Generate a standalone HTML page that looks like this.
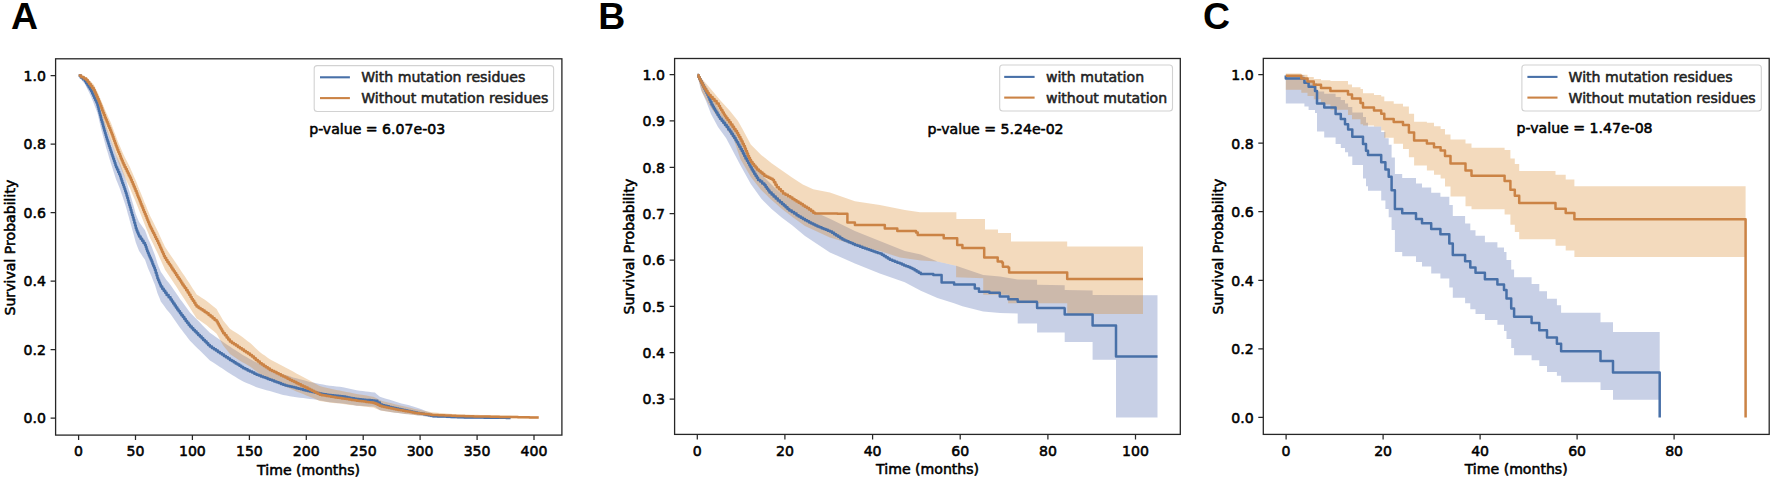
<!DOCTYPE html>
<html lang="en">
<head>
<meta charset="utf-8">
<title>Kaplan-Meier survival curves</title>
<style>
html,body{margin:0;padding:0;background:#fff;}
body{width:1772px;height:481px;overflow:hidden;}
svg{display:block;font-family:"DejaVu Sans","Liberation Sans",sans-serif;}
svg text{stroke:currentColor;stroke-width:0.55px;stroke-linejoin:round;}
svg text.pl{stroke:none;}
</style>
</head>
<body>
<svg width="1772" height="481" viewBox="0 0 1772 481">
<rect x="0" y="0" width="1772" height="481" fill="#fff"/>
<path d="M78.7 74.8 L81.8 76.5 L85 78.2 L87.1 80.6 L89.1 83.1 L91.2 85.5 L92.4 87.8 L93.7 90.1 L94.9 92.3 L96.2 94.6 L97.4 96.9 L98.2 99.6 L98.9 102.3 L99.7 105 L100.4 107.8 L101.2 110.6 L102 113.3 L102.9 116 L103.7 118.7 L104.5 121.4 L105.4 124.1 L106.2 126.8 L107.2 129.5 L108.2 132.3 L109.1 135 L110.1 137.8 L111.1 140.7 L112.1 143.5 L113.1 146.4 L114.1 149.3 L115.1 152.2 L116.1 155 L117.5 158 L118.8 160.9 L120.2 163.8 L121.3 167 L122.5 170.2 L123.6 173.4 L124.8 176.6 L125.9 179.8 L126.9 183 L127.8 186.2 L128.8 189.4 L129.7 192.6 L130.7 195.9 L131.7 199.2 L132.6 202.5 L133.6 205.8 L134.7 209.9 L135.8 214 L137.4 218.1 L139.1 222.1 L141.1 224.8 L143 227.5 L145 230.2 L146.5 234.3 L148 238.4 L149.2 241.1 L150.4 243.8 L151.6 246.6 L153.2 250.8 L154.9 255 L156.2 259.2 L157.4 263.3 L158.5 266.2 L159.7 269 L160.8 271.8 L162.7 274.6 L164.7 277.4 L166.6 280.2 L168.6 282.6 L170.5 284.9 L172.4 287.7 L174.3 290.5 L176.2 293.3 L178.1 296.1 L180 298.9 L182 301.6 L184 304.3 L186 307 L188 309.7 L190 312.4 L192.5 314.9 L194.9 317.5 L197.4 320 L199.9 322.6 L202.4 325.2 L204.9 327.7 L207.4 330.3 L209.9 332.8 L213.2 335.1 L216.6 337.4 L219.9 339.7 L222.4 341.4 L224.9 343.2 L227.4 344.9 L229.9 346.6 L232.6 348.4 L235.2 350.1 L237.9 351.8 L240.5 353.6 L243.2 355.3 L246.5 357.1 L249.8 358.9 L253.2 360.7 L256.5 362.6 L259.8 364 L263.1 365.4 L266.5 366.8 L269.8 368.3 L273.1 369.8 L276.5 371.2 L279.8 372.7 L283.1 374.2 L286.4 375.2 L289.8 376.3 L293.1 377.4 L296.4 378.3 L299.8 379.2 L303.1 380.1 L306.4 381 L309.8 381.9 L313.1 382.6 L316.4 383.3 L319.8 384 L323.1 384.6 L326.4 385.3 L329.7 385.7 L333 386 L336.4 386.4 L339.7 386.7 L343 387.2 L346.4 388 L349.8 388.7 L353.2 389.5 L356.6 390.3 L359.7 390.7 L362.7 391.1 L365.8 391.4 L368.8 391.8 L371.8 392.2 L374.9 392.6 L377.4 394.7 L379.9 396.8 L382.9 397.7 L386 398.7 L389 399.6 L392.1 400.6 L395.1 401.5 L398.2 402.5 L401.5 403.4 L404.8 404.3 L408.2 405.1 L411.5 406 L414.8 406.9 L417.9 408 L420.9 409.1 L424 410.3 L427 411.4 L430.1 412.6 L433.1 413.7 L436.1 413.9 L439.2 414.2 L442.2 414.4 L445.2 414.7 L448.2 414.9 L451.3 415.1 L454.3 415.3 L457.3 415.4 L460.3 415.6 L463.4 415.7 L466.4 415.9 L469.5 415.9 L472.7 416 L475.8 416 L479 416.1 L482.1 416.2 L485.3 416.2 L488.4 416.3 L491.6 416.3 L494.8 416.4 L497.9 416.5 L501.1 416.5 L504.2 416.6 L507.4 416.6 L510.5 416.7 L510.5 418.9 L507.4 418.9 L504.2 418.9 L501.1 418.9 L497.9 418.9 L494.8 418.9 L491.6 418.8 L488.4 418.8 L485.3 418.8 L482.1 418.8 L479 418.8 L475.8 418.8 L472.7 418.8 L469.5 418.8 L466.4 418.8 L463.4 418.7 L460.3 418.6 L457.3 418.5 L454.3 418.4 L451.3 418.3 L448.2 418.2 L445.2 418.1 L442.2 418 L439.2 417.9 L436.1 417.8 L433.1 417.7 L430.1 417.2 L427 416.8 L424 416.3 L420.9 415.8 L417.9 415.4 L414.8 414.9 L411.5 414.6 L408.2 414.2 L404.8 413.9 L401.5 413.5 L398.2 413.1 L395.1 412.7 L392.1 412.2 L389 411.7 L386 411.3 L382.9 410.8 L379.9 410.3 L377.4 408.6 L374.9 406.8 L371.8 406.6 L368.8 406.4 L365.8 406.2 L362.7 406 L359.7 405.8 L356.6 405.7 L353.2 405.1 L349.8 404.6 L346.4 404.1 L343 403.5 L339.7 403.2 L336.4 402.9 L333 402.5 L329.7 402.2 L326.4 401.8 L323.1 401.1 L319.8 400.5 L316.4 399.8 L313.1 399.3 L309.8 399 L306.4 398.5 L303.1 398.1 L299.8 397.7 L296.4 397.2 L293.1 396.7 L289.8 396.2 L286.4 395.6 L283.1 395 L279.8 394.1 L276.5 393.1 L273.1 392.1 L269.8 391.1 L266.5 390.2 L263.1 389.2 L259.8 388.2 L256.5 387.2 L253.2 385.8 L249.8 384.3 L246.5 382.9 L243.2 381.5 L240.5 380 L237.9 378.4 L235.2 376.8 L232.6 375.2 L229.9 373.5 L227.4 371.9 L224.9 370.2 L222.4 368.6 L219.9 367 L216.6 364.8 L213.2 362.6 L209.9 360.5 L207.4 358 L204.9 355.5 L202.4 353.1 L199.9 350.6 L197.4 348.2 L194.9 345.7 L192.5 343.3 L190 340.8 L188 338.2 L186 335.6 L184 332.9 L182 330.3 L180 327.7 L178.1 325 L176.2 322.3 L174.3 319.5 L172.4 316.8 L170.5 314.1 L168.6 311.8 L166.6 309.6 L164.7 306.8 L162.7 304.1 L160.8 301.4 L159.7 298.6 L158.5 295.8 L157.4 293.1 L156.2 288.9 L154.9 284.8 L153.2 280.7 L151.6 276.6 L150.4 273.8 L149.2 271 L148 268.2 L146.5 264 L145 259.8 L143 256.9 L141.1 254 L139.1 251.1 L137.4 246.8 L135.8 242.6 L134.7 238.4 L133.6 234.2 L132.6 230.8 L131.7 227.4 L130.7 223.9 L129.7 220.5 L128.8 217.1 L127.8 213.7 L126.9 210.2 L125.9 206.8 L124.8 203.3 L123.6 199.8 L122.5 196.3 L121.3 192.9 L120.2 189.4 L118.8 186.1 L117.5 182.8 L116.1 179.6 L115.1 176.4 L114.1 173.3 L113.1 170.2 L112.1 167.1 L111.1 163.9 L110.1 160.8 L109.1 157.6 L108.2 154.3 L107.2 151.1 L106.2 147.9 L105.4 144.7 L104.5 141.6 L103.7 138.5 L102.9 135.4 L102 132.3 L101.2 129.2 L100.4 126 L99.7 122.8 L98.9 119.5 L98.2 116.2 L97.4 112.9 L96.2 109.7 L94.9 106.5 L93.7 103.3 L92.4 100.1 L91.2 96.9 L89.1 92.6 L87.1 88.4 L85 84.2 L81.8 80.2 L78.7 76.2Z" fill="#4862ac" fill-opacity="0.3" stroke="none"/>
<path d="M78.7 74.8 L82.5 76 L86.2 77.1 L88.1 78.9 L90 80.7 L91.8 82.5 L93.7 84.5 L95 87 L96.2 89.5 L97.5 92 L98.7 94.5 L99.9 97.5 L101.2 100.4 L102.4 103.4 L103.7 106.4 L104.9 109.4 L106.1 112.2 L107.4 114.9 L108.6 117.7 L109.9 120.4 L111.1 123.3 L112.1 126.1 L113.2 129 L114.2 131.8 L115.3 134.6 L116.4 137.4 L117.4 140.2 L118.6 143.2 L119.9 146.1 L121.1 149 L122.4 151.9 L123.6 154.8 L125.2 157.9 L126.8 160.9 L128.3 164 L129.9 167.1 L131.2 170.2 L132.6 173.3 L133.9 176.4 L135.3 179.5 L136.6 182.6 L137.9 185.9 L139.2 189.2 L140.6 192.5 L141.9 195.8 L143.2 199.1 L144.5 202.4 L145.9 205.6 L147.2 208.9 L148.6 212.2 L149.9 215.5 L151.3 218.3 L152.7 221 L154.1 223.8 L155.4 226.5 L156.8 229.3 L158.2 232 L159.5 235 L160.9 237.9 L162.2 240.9 L163.6 243.8 L164.9 246.8 L166.6 249.3 L168.2 251.7 L169.9 254.2 L171.6 256.7 L173.2 259.1 L174.9 261.6 L176.9 264.5 L178.9 267.5 L180.8 270.4 L182.8 273.4 L184.8 276.3 L186.7 279.2 L188.6 282.1 L190.5 285.1 L192.5 288.2 L194.6 291.3 L196.6 294.5 L199.1 296.1 L201.6 297.7 L204.1 299.3 L206.6 300.9 L209.1 302.9 L211.6 304.9 L214.1 307 L216.6 309 L218.2 311.9 L219.9 314.7 L221.5 317.6 L223.2 320.5 L225.4 323.2 L227.7 326 L229.9 328.8 L233.2 330.9 L236.6 333.1 L239.9 335.2 L242.4 337.1 L244.9 339 L247.4 340.9 L249.9 342.8 L252.4 345.1 L254.9 347.4 L257.3 349.7 L259.8 352 L262.3 353.9 L264.8 355.6 L267.3 357.4 L269.8 359.2 L273.1 360.9 L276.5 362.7 L279.8 364.4 L283.1 366.2 L286.4 368 L289.8 369.7 L293.1 371.5 L296.4 373.4 L299.8 375.2 L303.1 377 L306.4 378.8 L309.8 380.6 L313.1 382.4 L316.4 384.3 L319.7 386.1 L323 386.9 L326.4 387.7 L329.7 388.4 L333 389.2 L336.4 389.9 L339.7 390.6 L343 391.2 L346.4 391.9 L349.8 392.5 L353.2 393.2 L356.6 393.9 L359.9 394.4 L363.3 395 L366.6 395.6 L370 396.2 L373.3 396.8 L376.1 398.1 L378.8 399.5 L381.6 400.8 L384.9 401.7 L388.2 402.5 L391.6 403.3 L394.9 404.2 L398.2 405 L401.5 405.8 L404.8 406.6 L408.2 407.3 L411.5 408.1 L414.8 408.9 L418.1 409.6 L421.5 410.2 L424.8 410.9 L428.2 411.6 L431.5 412.3 L434.5 412.6 L437.5 412.8 L440.6 413.1 L443.6 413.3 L446.6 413.6 L449.6 413.8 L452.6 413.9 L455.6 414.1 L458.7 414.2 L461.7 414.4 L464.7 414.5 L467.9 414.6 L471.1 414.7 L474.3 414.7 L477.5 414.8 L480.7 414.9 L483.9 415 L487.1 415.1 L490.3 415.2 L493.5 415.2 L496.7 415.3 L499.9 415.4 L503.1 415.5 L506.3 415.6 L509.5 415.6 L512.8 415.7 L516 415.8 L519.3 415.9 L522.5 415.9 L525.7 416 L529 416.1 L532.2 416.1 L535.5 416.2 L538.7 416.3 L538.7 418.5 L535.5 418.5 L532.2 418.4 L529 418.4 L525.7 418.4 L522.5 418.3 L519.3 418.3 L516 418.3 L512.8 418.2 L509.5 418.2 L506.3 418.2 L503.1 418.1 L499.9 418.1 L496.7 418 L493.5 418 L490.3 417.9 L487.1 417.9 L483.9 417.8 L480.7 417.8 L477.5 417.7 L474.3 417.7 L471.1 417.6 L467.9 417.6 L464.7 417.6 L461.7 417.4 L458.7 417.3 L455.6 417.2 L452.6 417.1 L449.6 417 L446.6 416.9 L443.6 416.8 L440.6 416.7 L437.5 416.6 L434.5 416.5 L431.5 416.5 L428.2 416.2 L424.8 415.9 L421.5 415.6 L418.1 415.4 L414.8 415.1 L411.5 414.7 L408.2 414.3 L404.8 413.9 L401.5 413.5 L398.2 413.1 L394.9 412.7 L391.6 412.2 L388.2 411.7 L384.9 411.3 L381.6 410.8 L378.8 409.8 L376.1 408.7 L373.3 407.5 L370 407.2 L366.6 406.8 L363.3 406.5 L359.9 406.1 L356.6 405.8 L353.2 405.3 L349.8 404.9 L346.4 404.4 L343 404 L339.7 403.6 L336.4 403.2 L333 402.9 L329.7 402.4 L326.4 402 L323 401.5 L319.7 401.1 L316.4 399.5 L313.1 398.1 L309.8 396.7 L306.4 395.4 L303.1 394 L299.8 392.7 L296.4 391.4 L293.1 390 L289.8 388.6 L286.4 387.1 L283.1 385.6 L279.8 384.2 L276.5 382.8 L273.1 381.3 L269.8 379.9 L267.3 378.4 L264.8 376.9 L262.3 375.4 L259.8 373.9 L257.3 372.1 L254.9 370.2 L252.4 368.3 L249.9 366.5 L247.4 365.1 L244.9 363.6 L242.4 362.2 L239.9 360.7 L236.6 358.4 L233.2 356.2 L229.9 353.9 L227.7 351.1 L225.4 348.3 L223.2 345.4 L221.5 342.5 L219.9 339.6 L218.2 336.6 L216.6 333.7 L214.1 331.6 L211.6 329.5 L209.1 327.4 L206.6 325.3 L204.1 323.5 L201.6 321.8 L199.1 320.1 L196.6 318.4 L194.6 315.2 L192.5 312 L190.5 308.7 L188.6 305.7 L186.7 302.7 L184.8 299.7 L182.8 296.7 L180.8 293.7 L178.9 290.7 L176.9 287.6 L174.9 284.6 L173.2 282.1 L171.6 279.5 L169.9 277 L168.2 274.5 L166.6 271.9 L164.9 269.4 L163.6 266.4 L162.2 263.4 L160.9 260.4 L159.5 257.4 L158.2 254.4 L156.8 251.6 L155.4 248.7 L154.1 245.9 L152.7 243.1 L151.3 240.3 L149.9 237.5 L148.6 234.1 L147.2 230.8 L145.9 227.4 L144.5 224.1 L143.2 220.7 L141.9 217.4 L140.6 214 L139.2 210.7 L137.9 207.3 L136.6 204 L135.3 200.8 L133.9 197.6 L132.6 194.4 L131.2 191.3 L129.9 188.1 L128.3 184.8 L126.8 181.5 L125.2 178.1 L123.6 174.8 L122.4 171.7 L121.1 168.6 L119.9 165.5 L118.6 162.4 L117.4 159.4 L116.4 156.4 L115.3 153.4 L114.2 150.4 L113.2 147.4 L112.1 144.5 L111.1 141.5 L109.9 138.4 L108.6 135.1 L107.4 131.9 L106.1 128.6 L104.9 125.4 L103.7 121.9 L102.4 118.4 L101.2 114.9 L99.9 111.4 L98.7 107.9 L97.5 104.7 L96.2 101.6 L95 98.5 L93.7 95.3 L91.8 92.4 L90 89.2 L88.1 86.1 L86.2 82.9 L82.5 79.5 L78.7 76.2Z" fill="#d78426" fill-opacity="0.3" stroke="none"/>
<path d="M78.7 75.5 H80.8 V77.4 H82.9 V79.3 H85 V81.2 H86.2 V83.2 H87.5 V85.2 H88.7 V87.2 H90 V89.2 H91.2 V91.2 H92.2 V93.5 H93.3 V95.8 H94.3 V98.1 H95.3 V100.3 H96.4 V102.6 H97.4 V104.9 H97.9 V107 H98.5 V109.2 H99 V111.3 H99.6 V113.5 H100.1 V115.6 H100.7 V117.8 H101.2 V119.9 H101.8 V122.1 H102.5 V124.2 H103.1 V126.4 H103.7 V128.6 H104.3 V130.8 H105 V133 H105.6 V135.1 H106.2 V137.3 H106.9 V139.4 H107.6 V141.6 H108.3 V143.7 H109 V145.9 H109.7 V148 H110.4 V150.2 H111.1 V152.3 H111.8 V154.4 H112.5 V156.6 H113.2 V158.7 H114 V160.9 H114.7 V163 H115.4 V165.2 H116.1 V167.3 H117.1 V169.6 H118.2 V171.9 H119.2 V174.3 H120.2 V176.6 H120.9 V178.7 H121.6 V180.8 H122.3 V182.9 H123.1 V184.9 H123.8 V187 H124.5 V189.1 H125.2 V191.2 H125.9 V193.3 H126.6 V195.7 H127.3 V198 H128 V200.4 H128.6 V202.8 H129.3 V205.2 H130 V207.5 H130.7 V209.9 H131.4 V212.4 H132.1 V214.9 H132.9 V217.5 H133.6 V220 H134.3 V222.8 H135.1 V225.5 H135.8 V228.3 H136.6 V230.4 H137.4 V232.4 H138.3 V234.5 H139.1 V236.6 H140.6 V238.7 H142.1 V240.8 H143.5 V242.9 H145 V245 H145.8 V247.1 H146.5 V249.2 H147.2 V251.2 H148 V253.3 H148.9 V255.4 H149.8 V257.5 H150.7 V259.5 H151.6 V261.6 H152.4 V263.7 H153.2 V265.8 H154.1 V267.8 H154.9 V269.9 H155.7 V272.7 H156.6 V275.4 H157.4 V278.2 H158.2 V280.3 H159.1 V282.4 H160 V284.5 H160.8 V286.6 H162.2 V288.7 H163.7 V290.8 H165.2 V292.8 H166.6 V294.9 H168.6 V297.2 H170.5 V299.5 H171.9 V301.5 H173.2 V303.4 H174.6 V305.4 H175.9 V307.4 H177.3 V309.4 H178.6 V311.3 H180 V313.3 H181.4 V315.2 H182.9 V317.1 H184.3 V319 H185.7 V320.9 H187.1 V322.8 H188.6 V324.7 H190 V326.6 H191.7 V328.3 H193.3 V329.9 H194.9 V331.6 H196.6 V333.3 H198.2 V334.9 H199.9 V336.6 H201.6 V338.3 H203.2 V339.9 H204.9 V341.6 H206.6 V343.3 H208.2 V344.9 H209.9 V346.6 H211.9 V347.9 H213.9 V349.2 H215.9 V350.6 H217.9 V351.9 H219.9 V353.2 H221.9 V354.5 H223.9 V355.9 H225.9 V357.2 H227.9 V358.6 H229.9 V359.9 H231.8 V361.1 H233.7 V362.3 H235.6 V363.5 H237.5 V364.6 H239.4 V365.8 H241.3 V367 H243.2 V368.2 H245.4 V369.3 H247.6 V370.4 H249.8 V371.5 H252.1 V372.6 H254.3 V373.7 H256.5 V374.8 H258.7 V375.6 H260.9 V376.5 H263.1 V377.3 H265.4 V378.1 H267.6 V379 H269.8 V379.8 H272 V380.6 H274.2 V381.5 H276.5 V382.3 H278.7 V383.1 H280.9 V384 H283.1 V384.8 H285.3 V385.4 H287.5 V385.9 H289.8 V386.5 H292 V387.1 H294.2 V387.6 H296.4 V388.2 H298.6 V388.8 H300.9 V389.3 H303.1 V389.9 H305.3 V390.4 H307.6 V390.9 H309.8 V391.5 H312.2 V392 H314.5 V392.4 H316.9 V392.9 H319.3 V393.4 H321.7 V393.9 H324 V394.3 H326.4 V394.8 H328.8 V395.1 H331.1 V395.3 H333.5 V395.6 H335.9 V395.8 H338.3 V396.1 H340.6 V396.3 H343 V396.6 H345.3 V397 H347.5 V397.4 H349.8 V397.9 H352.1 V398.3 H354.3 V398.7 H356.6 V399.1 H358.9 V399.3 H361.2 V399.5 H363.5 V399.7 H365.8 V399.9 H368 V400.1 H370.3 V400.3 H372.6 V400.5 H374.9 V400.7 H377.4 V402.6 H379.9 V404.6 H382.2 V405.2 H384.5 V405.7 H386.8 V406.3 H389 V406.9 H391.3 V407.4 H393.6 V408 H395.9 V408.5 H398.2 V409.1 H400.6 V409.6 H402.9 V410 H405.3 V410.5 H407.7 V411 H410.1 V411.5 H412.4 V411.9 H414.8 V412.4 H417.1 V412.9 H419.4 V413.3 H421.7 V413.8 H424 V414.3 H426.2 V414.8 H428.5 V415.2 H430.8 V415.7 H433.1 V416.2 H435.3 V416.3 H437.5 V416.4 H439.8 V416.5 H442 V416.5 H444.2 V416.6 H446.4 V416.7 H448.6 V416.8 H450.9 V416.9 H453.1 V417 H455.3 V417.1 H457.5 V417.2 H459.7 V417.2 H462 V417.3 H464.2 V417.4 H466.4 V417.5 H468.6 V417.5 H470.8 V417.5 H473 V417.6 H475.2 V417.6 H477.4 V417.6 H479.6 V417.6 H481.8 V417.6 H484 V417.7 H486.2 V417.7 H488.4 V417.7 H490.7 V417.7 H492.9 V417.7 H495.1 V417.8 H497.3 V417.8 H499.5 V417.8 H501.7 V417.8 H503.9 V417.8 H506.1 V417.9 H508.3 V417.9 H510.5 V417.9" fill="none" stroke="#4870a8" stroke-width="2.5" stroke-linejoin="round" stroke-linecap="butt"/>
<path d="M78.7 75.5 H81.2 V77 H83.7 V78.5 H86.2 V80 H87.7 V82 H89.2 V84 H90.7 V85.9 H92.2 V87.9 H93.7 V89.9 H94.7 V92.2 H95.7 V94.4 H96.7 V96.7 H97.7 V98.9 H98.7 V101.2 H99.6 V103.5 H100.5 V105.8 H101.4 V108.1 H102.2 V110.5 H103.1 V112.8 H104 V115.1 H104.9 V117.4 H105.8 V119.5 H106.7 V121.7 H107.6 V123.8 H108.4 V126 H109.3 V128.1 H110.2 V130.3 H111.1 V132.4 H111.9 V134.6 H112.7 V136.8 H113.5 V138.9 H114.2 V141.1 H115 V143.3 H115.8 V145.5 H116.6 V147.6 H117.4 V149.8 H118.3 V151.9 H119.2 V154.1 H120.1 V156.2 H120.9 V158.4 H121.8 V160.5 H122.7 V162.7 H123.6 V164.8 H124.6 V166.9 H125.7 V169.1 H126.8 V171.2 H127.8 V173.3 H128.8 V175.5 H129.9 V177.6 H130.9 V179.8 H131.8 V182.1 H132.8 V184.3 H133.7 V186.6 H134.7 V188.8 H135.6 V191.1 H136.6 V193.3 H137.4 V195.4 H138.2 V197.5 H139.1 V199.5 H139.9 V201.6 H140.7 V203.7 H141.5 V205.8 H142.4 V207.8 H143.2 V209.9 H144 V212 H144.9 V214.1 H145.7 V216.1 H146.6 V218.2 H147.4 V220.3 H148.2 V222.3 H149.1 V224.4 H149.9 V226.5 H150.9 V228.6 H152 V230.7 H153 V232.8 H154.1 V234.8 H155.1 V236.9 H156.1 V239 H157.2 V241.1 H158.2 V243.2 H159.2 V245.3 H160.1 V247.5 H161.1 V249.6 H162 V251.7 H163 V253.8 H163.9 V256 H164.9 V258.1 H166.2 V260 H167.4 V261.9 H168.7 V263.7 H169.9 V265.6 H171.2 V267.5 H172.4 V269.4 H173.7 V271.2 H174.9 V273.1 H176.1 V275 H177.4 V276.9 H178.6 V278.7 H179.9 V280.6 H181.1 V282.5 H182.3 V284.4 H183.6 V286.2 H184.8 V288.1 H186.2 V290.3 H187.7 V292.6 H189.1 V294.8 H190.5 V297 H191.7 V298.9 H192.9 V300.8 H194.2 V302.8 H195.4 V304.7 H196.6 V306.6 H198.6 V307.9 H200.6 V309.3 H202.6 V310.6 H204.6 V312 H206.6 V313.3 H208.6 V315 H210.6 V316.6 H212.6 V318.3 H214.6 V319.9 H216.6 V321.6 H217.7 V323.5 H218.8 V325.5 H219.9 V327.4 H221 V329.3 H222.1 V331.3 H223.2 V333.2 H224.9 V335.3 H226.6 V337.4 H228.2 V339.5 H229.9 V341.6 H231.9 V342.9 H233.9 V344.2 H235.9 V345.6 H237.9 V346.9 H239.9 V348.2 H241.9 V349.5 H243.9 V350.9 H245.9 V352.2 H247.9 V353.6 H249.9 V354.9 H251.9 V356.6 H253.9 V358.2 H255.8 V359.9 H257.8 V361.5 H259.8 V363.2 H261.8 V364.5 H263.8 V365.9 H265.8 V367.2 H267.8 V368.6 H269.8 V369.9 H272 V371 H274.2 V372.1 H276.5 V373.2 H278.7 V374.3 H280.9 V375.4 H283.1 V376.5 H285.3 V377.6 H287.5 V378.7 H289.8 V379.9 H292 V381 H294.2 V382.1 H296.4 V383.2 H298.6 V384.3 H300.9 V385.4 H303.1 V386.5 H305.3 V387.6 H307.6 V388.7 H309.8 V389.8 H311.8 V390.8 H313.8 V391.8 H315.7 V392.8 H317.7 V393.8 H319.7 V394.8 H321.9 V395.2 H324.1 V395.6 H326.4 V396 H328.6 V396.3 H330.8 V396.7 H333 V397.1 H335.2 V397.4 H337.5 V397.8 H339.7 V398.1 H341.9 V398.4 H344.2 V398.8 H346.4 V399.1 H348.9 V399.5 H351.5 V399.9 H354.1 V400.3 H356.6 V400.7 H359 V401 H361.4 V401.3 H363.8 V401.6 H366.1 V402 H368.5 V402.3 H370.9 V402.6 H373.3 V402.9 H375.4 V403.8 H377.5 V404.8 H379.5 V405.7 H381.6 V406.6 H384 V407.1 H386.3 V407.5 H388.7 V408 H391.1 V408.5 H393.5 V409 H395.8 V409.4 H398.2 V409.9 H400.6 V410.3 H402.9 V410.8 H405.3 V411.2 H407.7 V411.6 H410.1 V412 H412.4 V412.5 H414.8 V412.9 H417.2 V413.2 H419.6 V413.5 H422 V413.8 H424.3 V414 H426.7 V414.3 H429.1 V414.6 H431.5 V414.9 H433.7 V415 H435.9 V415.1 H438.1 V415.2 H440.4 V415.2 H442.6 V415.3 H444.8 V415.4 H447 V415.5 H449.2 V415.6 H451.4 V415.7 H453.6 V415.8 H455.8 V415.9 H458.1 V415.9 H460.3 V416 H462.5 V416.1 H464.7 V416.2 H467 V416.2 H469.3 V416.3 H471.6 V416.3 H473.9 V416.4 H476.3 V416.4 H478.6 V416.5 H480.9 V416.5 H483.2 V416.6 H485.5 V416.6 H487.8 V416.6 H490.1 V416.7 H492.4 V416.7 H494.7 V416.8 H497.1 V416.8 H499.4 V416.9 H501.7 V416.9 H504 V417 H506.3 V417 H508.6 V417 H510.9 V417.1 H513.2 V417.1 H515.6 V417.1 H517.9 V417.2 H520.2 V417.2 H522.5 V417.2 H524.8 V417.3 H527.1 V417.3 H529.4 V417.4 H531.8 V417.4 H534.1 V417.4 H536.4 V417.5 H538.7 V417.5" fill="none" stroke="#cb8345" stroke-width="2.5" stroke-linejoin="round" stroke-linecap="butt"/>
<rect x="55.6" y="58.8" width="506.3" height="376.3" fill="none" stroke="#262626" stroke-width="1.3"/>
<text x="78.6" y="456.3" font-size="14.1" text-anchor="middle" fill="#000" style="color:#000">0</text>
<text x="135.5" y="456.3" font-size="14.1" text-anchor="middle" fill="#000" style="color:#000">50</text>
<text x="192.4" y="456.3" font-size="14.1" text-anchor="middle" fill="#000" style="color:#000">100</text>
<text x="249.4" y="456.3" font-size="14.1" text-anchor="middle" fill="#000" style="color:#000">150</text>
<text x="306.3" y="456.3" font-size="14.1" text-anchor="middle" fill="#000" style="color:#000">200</text>
<text x="363.2" y="456.3" font-size="14.1" text-anchor="middle" fill="#000" style="color:#000">250</text>
<text x="420.1" y="456.3" font-size="14.1" text-anchor="middle" fill="#000" style="color:#000">300</text>
<text x="477.1" y="456.3" font-size="14.1" text-anchor="middle" fill="#000" style="color:#000">350</text>
<text x="534" y="456.3" font-size="14.1" text-anchor="middle" fill="#000" style="color:#000">400</text>
<text x="46" y="423.4" font-size="14.1" text-anchor="end" fill="#000" style="color:#000">0.0</text>
<text x="46" y="354.9" font-size="14.1" text-anchor="end" fill="#000" style="color:#000">0.2</text>
<text x="46" y="286.4" font-size="14.1" text-anchor="end" fill="#000" style="color:#000">0.4</text>
<text x="46" y="217.9" font-size="14.1" text-anchor="end" fill="#000" style="color:#000">0.6</text>
<text x="46" y="149.4" font-size="14.1" text-anchor="end" fill="#000" style="color:#000">0.8</text>
<text x="46" y="80.9" font-size="14.1" text-anchor="end" fill="#000" style="color:#000">1.0</text>
<path d="M78.6 435.1 v5 M135.5 435.1 v5 M192.4 435.1 v5 M249.4 435.1 v5 M306.3 435.1 v5 M363.2 435.1 v5 M420.1 435.1 v5 M477.1 435.1 v5 M534 435.1 v5 M55.6 418.1 h-5 M55.6 349.6 h-5 M55.6 281.1 h-5 M55.6 212.6 h-5 M55.6 144.1 h-5 M55.6 75.6 h-5 " stroke="#262626" stroke-width="1.25" fill="none"/>
<text x="308.6" y="474.9" font-size="14.1" text-anchor="middle" fill="#000" style="color:#000">Time (months)</text>
<text transform="translate(15.2 247.6) rotate(-90)" font-size="14.1" text-anchor="middle" fill="#000" style="color:#000">Survival Probability</text>
<rect x="314.2" y="65.6" width="239.4" height="45.9" rx="3" ry="3" fill="#fff" fill-opacity="0.8" stroke="#d2d2d2" stroke-width="1.1"/>
<path d="M320 77.3 H349.9" stroke="#4870a8" stroke-width="2.1"/>
<path d="M320 98.1 H349.9" stroke="#cb8345" stroke-width="2.1"/>
<text x="361.2" y="82.4" font-size="14.1" text-anchor="start" fill="#222" style="color:#222">With mutation residues</text>
<text x="361.2" y="103.2" font-size="14.1" text-anchor="start" fill="#222" style="color:#222">Without mutation residues</text>
<text x="309.2" y="134.4" font-size="14.1" text-anchor="start" fill="#000" style="color:#000">p-value = 6.07e-03</text>
<path d="M697.5 74 L702.5 80 L708 89 L714 101 L721 113 L729 123 L737 132 L744 143 L749 155 L756 167 L765 178 L775 188 L780 192.5 L805 207.4 L829.9 218.7 L854.9 231.1 L879.8 241.1 L904.8 251.1 L920.8 254.5 L937.4 261.6 L956.1 265.7 L983.2 275 L1000 276.5 L1017.7 279.4 L1037.1 279.8 L1037.1 284.7 L1064.7 285.2 L1064.7 290 L1092.6 290.5 L1092.6 295 L1157.5 295.3 L1157.5 417.5 L1116 417.5 L1116 359.7 L1092.6 359.7 L1092.6 342 L1064.7 342 L1064.7 332.5 L1037.1 332.5 L1037.1 323.6 L1017.7 323.6 L1017.7 313.5 L1000 313 L983.2 311.5 L962.4 306.3 L954.1 303.2 L937.4 298 L920.8 290.7 L904.8 282.3 L879.8 273.6 L854.9 263.6 L829.9 252.4 L805 236.1 L792.4 225.5 L782 217.8 L771.6 209 L761.2 198.6 L750.8 184.1 L740.4 165.3 L730 145.6 L726 138 L718 127 L711 114 L706 101 L701 90 L697.5 76Z" fill="#4862ac" fill-opacity="0.3" stroke="none"/>
<path d="M697.5 74 L703 80 L710 88 L720 100 L730 111 L738 121 L742.5 129 L750.8 144.6 L761.2 154.9 L771.6 163.3 L782 170.5 L792.4 177.8 L802.8 184.5 L813.2 189.3 L829.9 192.5 L854.9 201.2 L879.8 204.9 L904.8 209.9 L920 212.2 L956.4 212.2 L956.4 219 L985 219 L985 229.4 L998 229.4 L998 233 L1011 233 L1011 241.4 L1067.2 241.4 L1067.2 246.5 L1143 246.5 L1143 314.1 L1067.2 314.1 L1067.2 303.3 L1008.1 303.3 L1008.1 294.8 L983.2 294.8 L983.2 278.2 L956.1 277.2 L956.1 265.7 L937.4 261.6 L920.8 260.5 L900 257.5 L879.8 251.1 L854.9 244.9 L829.9 237.4 L805 226 L792.4 217 L782 209 L771.6 200 L761.2 190 L750.8 177 L740.4 159 L734 140 L726 128 L716 115 L708 103 L702 92 L697.5 76Z" fill="#d78426" fill-opacity="0.3" stroke="none"/>
<path d="M697.5 75 H698.5 V77 H699.5 V79 H700.5 V81 H701.5 V83 H702.5 V85 H703.5 V87 H704.5 V89 H705.5 V90.9 H706.5 V92.9 H707.5 V94.9 H708.5 V97.3 H709.5 V99.7 H710.5 V102.1 H711.5 V104.5 H712.7 V106.5 H713.8 V108.6 H715 V110.6 H716.2 V112.6 H717.5 V114.7 H718.8 V116.7 H720 V118.7 H721.7 V120.8 H723.3 V122.8 H725 V124.9 H726.7 V127.1 H728.3 V129.4 H730 V131.6 H731.4 V133.7 H732.9 V135.9 H734.3 V138 H735.6 V140.2 H736.8 V142.3 H738.1 V144.5 H739.3 V146.7 H740.6 V148.9 H741.8 V151.1 H743 V153.6 H744.3 V156.1 H745.5 V158.6 H746.9 V160.8 H748.2 V163 H749.4 V165.2 H750.5 V167.3 H751.7 V169.4 H752.9 V171.6 H754.2 V173.7 H755.5 V175.8 H756.8 V177.8 H758.1 V179.9 H760.2 V181.6 H762.2 V183.4 H764.3 V185.1 H765.6 V186.9 H766.9 V188.8 H768.2 V190.6 H769.5 V192.4 H771.6 V194.5 H773.6 V196.5 H775.7 V198.6 H777.8 V200.4 H779.9 V202.2 H782 V204 H783.8 V205.6 H785.6 V207.2 H787.5 V208.9 H789.3 V210.5 H791.7 V212.1 H794.1 V213.6 H796.5 V215.2 H798.6 V216.5 H800.8 V217.8 H802.9 V219 H805 V220.3 H807.1 V221.3 H809.1 V222.4 H811.2 V223.4 H813.3 V224.4 H815.3 V225.5 H817.4 V226.5 H819.5 V227.3 H821.6 V228.2 H823.6 V229 H825.7 V229.8 H827.8 V230.7 H829.9 V231.5 H832 V232.8 H834.1 V234.2 H836.1 V235.5 H838.2 V236.8 H840.3 V238.2 H842.4 V239.5 H844.5 V240.4 H846.6 V241.3 H848.6 V242.2 H850.7 V243.1 H852.8 V244 H854.9 V244.9 H857.4 V245.8 H859.9 V246.8 H862.4 V247.7 H864.9 V248.6 H867 V249.3 H869.2 V250 H871.3 V250.7 H873.4 V251.5 H875.5 V252.2 H877.7 V252.9 H879.8 V253.6 H881.8 V254.8 H883.8 V256.1 H885.8 V257.3 H887.8 V258.6 H889.8 V259.8 H892.3 V260.8 H894.8 V261.7 H897.3 V262.7 H899.8 V263.6 H901.9 V264.5 H904 V265.4 H906.1 V266.2 H908.3 V267.1 H910.4 V268 H912.5 V268.9 H914.6 V270.2 H916.6 V271.5 H918.7 V272.8 H920.8 V274.1 H933.3 V275.1 H941.6 V282.4 H954.1 V284.5 H974.8 V288.6 H979 V291.7 H989.4 V292.8 H999.8 V296.5 H1008.4 V299.3 H1017.7 V301.7 H1036.8 V302.4 H1037.1 V307.9 H1064.4 V308.6 H1064.7 V314.6 H1092.3 V314.6 H1092.6 V325.5 H1116 V325.5 H1116 V356.5 H1157.5 V356.5" fill="none" stroke="#4870a8" stroke-width="2.5" stroke-linejoin="round" stroke-linecap="butt"/>
<path d="M697.5 75 H698.5 V77.1 H699.6 V79.2 H700.6 V81.2 H701.6 V83.3 H702.7 V85.4 H703.7 V87.5 H705 V89.3 H706.2 V91.2 H707.5 V93.1 H708.7 V94.9 H710.6 V96.9 H712.6 V99 H714.5 V101 H716.6 V103.5 H718.7 V106 H720 V108.2 H721.2 V110.3 H722.5 V112.5 H723.8 V114.4 H725 V116.2 H726.2 V118.1 H727.5 V120 H729.2 V122.3 H730.8 V124.5 H732.5 V126.8 H734 V128.9 H735.5 V131 H737 V133.1 H738.1 V135.1 H739.2 V137.1 H740.4 V139.2 H741.5 V141.2 H742.6 V143.7 H743.8 V146.1 H744.9 V148.6 H745.9 V151.1 H747 V153.6 H748 V156.1 H749 V158.1 H750 V160 H751 V162 H752.5 V163.9 H754 V165.8 H755.5 V167.6 H757 V169.5 H758.8 V171.1 H760.6 V172.6 H762.5 V174.1 H764.3 V175.7 H766.4 V176.8 H768.5 V177.8 H770.5 V178.8 H772.6 V179.9 H774 V182.3 H775.4 V184.8 H776.8 V187.2 H778.9 V189.3 H780.9 V191.3 H783 V193.4 H785.4 V194.8 H787.9 V196.2 H790.3 V197.6 H792.4 V198.9 H794.5 V200.2 H796.5 V201.5 H798.6 V202.8 H800.7 V204.1 H802.8 V205.4 H804.8 V206.7 H806.9 V208 H809 V209.6 H811.1 V211.1 H813.2 V212.7 H815 V213.5 H837.4 V213.7 H847.4 V222.4 H854.9 V224.9 H877.3 V224.9 H884.8 V228.6 H897.3 V231.1 H916 V232.4 H917.7 V235 H943.7 V235 H943.7 V238.3 H956.1 V238.3 H957.2 V245 H962.4 V248.1 H983.2 V248.1 H984.2 V257.4 H996.7 V257.4 H997.7 V261.6 H1001.9 V262.6 H1002.9 V266.8 H1008.1 V267.4 H1009.1 V272.4 H1067 V272.4 H1067.2 V279 H1143 V279" fill="none" stroke="#cb8345" stroke-width="2.5" stroke-linejoin="round" stroke-linecap="butt"/>
<rect x="674.6" y="58.5" width="505.7" height="375.9" fill="none" stroke="#262626" stroke-width="1.3"/>
<text x="697.3" y="455.6" font-size="14.1" text-anchor="middle" fill="#000" style="color:#000">0</text>
<text x="784.9" y="455.6" font-size="14.1" text-anchor="middle" fill="#000" style="color:#000">20</text>
<text x="872.6" y="455.6" font-size="14.1" text-anchor="middle" fill="#000" style="color:#000">40</text>
<text x="960.2" y="455.6" font-size="14.1" text-anchor="middle" fill="#000" style="color:#000">60</text>
<text x="1047.9" y="455.6" font-size="14.1" text-anchor="middle" fill="#000" style="color:#000">80</text>
<text x="1135.5" y="455.6" font-size="14.1" text-anchor="middle" fill="#000" style="color:#000">100</text>
<text x="665" y="404.3" font-size="14.1" text-anchor="end" fill="#000" style="color:#000">0.3</text>
<text x="665" y="357.9" font-size="14.1" text-anchor="end" fill="#000" style="color:#000">0.4</text>
<text x="665" y="311.6" font-size="14.1" text-anchor="end" fill="#000" style="color:#000">0.5</text>
<text x="665" y="265.3" font-size="14.1" text-anchor="end" fill="#000" style="color:#000">0.6</text>
<text x="665" y="218.9" font-size="14.1" text-anchor="end" fill="#000" style="color:#000">0.7</text>
<text x="665" y="172.6" font-size="14.1" text-anchor="end" fill="#000" style="color:#000">0.8</text>
<text x="665" y="126.2" font-size="14.1" text-anchor="end" fill="#000" style="color:#000">0.9</text>
<text x="665" y="79.9" font-size="14.1" text-anchor="end" fill="#000" style="color:#000">1.0</text>
<path d="M697.3 434.4 v5 M784.9 434.4 v5 M872.6 434.4 v5 M960.2 434.4 v5 M1047.9 434.4 v5 M1135.5 434.4 v5 M674.6 399 h-5 M674.6 352.6 h-5 M674.6 306.3 h-5 M674.6 260 h-5 M674.6 213.6 h-5 M674.6 167.3 h-5 M674.6 120.9 h-5 M674.6 74.6 h-5 " stroke="#262626" stroke-width="1.25" fill="none"/>
<text x="927.6" y="474.2" font-size="14.1" text-anchor="middle" fill="#000" style="color:#000">Time (months)</text>
<text transform="translate(634.2 246.6) rotate(-90)" font-size="14.1" text-anchor="middle" fill="#000" style="color:#000">Survival Probability</text>
<rect x="999.7" y="65" width="172.8" height="46" rx="3" ry="3" fill="#fff" fill-opacity="0.8" stroke="#d2d2d2" stroke-width="1.1"/>
<path d="M1004.2 76.9 H1034.6" stroke="#4870a8" stroke-width="2.1"/>
<path d="M1004.2 97.6 H1034.6" stroke="#cb8345" stroke-width="2.1"/>
<text x="1045.9" y="82" font-size="14.1" text-anchor="start" fill="#222" style="color:#222">with mutation</text>
<text x="1045.9" y="102.7" font-size="14.1" text-anchor="start" fill="#222" style="color:#222">without mutation</text>
<text x="927.6" y="133.6" font-size="14.1" text-anchor="start" fill="#000" style="color:#000">p-value = 5.24e-02</text>
<path d="M1285.8 72.1 L1285.8 72.1 L1285.8 75 L1304.4 75 L1304.4 78.1 L1308.6 78.1 L1308.6 80.8 L1315 80.8 L1315 83 L1317 83 L1317 91.5 L1324.2 91.5 L1324.2 93.7 L1335.6 93.7 L1335.6 97 L1340.8 97 L1340.8 100 L1345 100 L1345 103.4 L1348.1 103.4 L1348.1 107.1 L1352.3 107.1 L1352.3 112.6 L1363 112.6 L1363 116.9 L1366 116.9 L1366 122.8 L1368 122.8 L1368 126.6 L1381.2 126.6 L1381.2 132.1 L1385.4 132.1 L1385.4 138.3 L1388.7 138.3 L1388.7 144.7 L1391.6 144.7 L1391.6 157.4 L1394.9 157.4 L1394.9 174.1 L1402.2 174.1 L1402.2 178 L1416 178 L1416 183.4 L1422 183.4 L1422 187.4 L1431.2 187.4 L1431.2 192.8 L1440.4 192.8 L1440.4 196.8 L1449.3 196.8 L1449.3 204.9 L1452.8 204.9 L1452.8 216.1 L1465.1 216.1 L1465.1 223.4 L1470.3 223.4 L1470.3 230.2 L1475.5 230.2 L1475.5 235.8 L1484.9 235.8 L1484.9 242.2 L1497.4 242.2 L1497.4 247.5 L1504 247.5 L1504 252 L1506.5 252 L1506.5 260.1 L1511.2 260.1 L1511.2 269.4 L1514.1 269.4 L1514.1 277.3 L1531.6 277.3 L1531.6 283.9 L1539.3 283.9 L1539.3 291.3 L1547 291.3 L1547 298.8 L1556.9 298.8 L1556.9 305.2 L1561.1 305.2 L1561.1 312.7 L1600.5 312.7 L1600.5 322.3 L1613 322.3 L1613 331.9 L1659.7 331.9 L1659.7 399.7 L1613 399.7 L1613 390.1 L1600.5 390.1 L1600.5 382.2 L1561.1 382.2 L1561.1 375.8 L1556.9 375.8 L1556.9 372.1 L1547 372.1 L1547 366 L1539.3 366 L1539.3 360.3 L1531.6 360.3 L1531.6 355.2 L1514.1 355.2 L1514.1 347.9 L1511.2 347.9 L1511.2 339.1 L1506.5 339.1 L1506.5 330.9 L1504 330.9 L1504 324.7 L1497.4 324.7 L1497.4 319.9 L1484.9 319.9 L1484.9 314.1 L1475.5 314.1 L1475.5 309.2 L1470.3 309.2 L1470.3 303.2 L1465.1 303.2 L1465.1 297.8 L1452.8 297.8 L1452.8 287.4 L1449.3 287.4 L1449.3 278.4 L1440.4 278.4 L1440.4 273.5 L1431.2 273.5 L1431.2 266.5 L1422 266.5 L1422 262 L1416 262 L1416 256.2 L1402.2 256.2 L1402.2 251.9 L1394.9 251.9 L1394.9 229.9 L1391.6 229.9 L1391.6 217.2 L1388.7 217.2 L1388.7 209 L1385.4 209 L1385.4 200.5 L1381.2 200.5 L1381.2 190.7 L1368 190.7 L1368 186.2 L1366 186.2 L1366 178.4 L1363 178.4 L1363 164.9 L1352.3 164.9 L1352.3 156.4 L1348.1 156.4 L1348.1 152.3 L1345 152.3 L1345 148 L1340.8 148 L1340.8 143.9 L1335.6 143.9 L1335.6 137.6 L1324.2 137.6 L1324.2 131.5 L1317 131.5 L1317 113 L1315 113 L1315 109.9 L1308.6 109.9 L1308.6 106.6 L1304.4 106.6 L1304.4 103.5 L1285.8 103.5 L1285.8 100.6 L1285.8 100.6Z" fill="#4862ac" fill-opacity="0.3" stroke="none"/>
<path d="M1285.8 73.5 L1301.3 73.5 L1301.3 74.8 L1307.5 74.8 L1307.5 77.1 L1313.8 77.1 L1313.8 78.9 L1321 78.9 L1321 80.3 L1330.4 80.3 L1330.4 81 L1348 81 L1348 84.5 L1352 84.5 L1352 87.2 L1360.5 87.2 L1360.5 88.9 L1363 88.9 L1363 93.2 L1374 93.2 L1374 95.1 L1381.2 95.1 L1381.2 96.6 L1384.3 96.6 L1384.3 101.2 L1393.7 101.2 L1393.7 103.8 L1403 103.8 L1403 106.4 L1408.9 106.4 L1408.9 113.7 L1414.1 113.7 L1414.1 121.8 L1426.9 121.8 L1426.9 122.7 L1434 122.7 L1434 126.2 L1440.6 126.2 L1440.6 129.1 L1445 129.1 L1445 134.5 L1450.5 134.5 L1450.5 139.6 L1465.5 139.6 L1465.5 143.4 L1471.5 143.4 L1471.5 147.7 L1504.6 147.7 L1504.6 150.1 L1510.4 150.1 L1510.4 158.4 L1514.8 158.4 L1514.8 164 L1519.2 164 L1519.2 171 L1555.5 171 L1555.5 174.8 L1565.7 174.8 L1565.7 179.6 L1574.4 179.6 L1574.4 186.3 L1745.6 186.3 L1745.6 257 L1574.4 257 L1574.4 250.4 L1565.7 250.4 L1565.7 245.7 L1555.5 245.7 L1555.5 239.3 L1519.2 239.3 L1519.2 231.9 L1514.8 231.9 L1514.8 224.8 L1510.4 224.8 L1510.4 214.6 L1504.6 214.6 L1504.6 209.3 L1471.5 209.3 L1471.5 206.3 L1465.5 206.3 L1465.5 196.6 L1450.5 196.6 L1450.5 186.5 L1445 186.5 L1445 178.4 L1440.6 178.4 L1440.6 174.8 L1434 174.8 L1434 170.5 L1426.9 170.5 L1426.9 165.5 L1414.1 165.5 L1414.1 157.3 L1408.9 157.3 L1408.9 149 L1403 149 L1403 143.7 L1393.7 143.7 L1393.7 137.7 L1384.3 137.7 L1384.3 130.4 L1381.2 130.4 L1381.2 126.6 L1374 126.6 L1374 125.5 L1363 125.5 L1363 124.3 L1360.5 124.3 L1360.5 119.2 L1352 119.2 L1352 114.9 L1348 114.9 L1348 109.7 L1330.4 109.7 L1330.4 104.5 L1321 104.5 L1321 99.3 L1313.8 99.3 L1313.8 96 L1307.5 96 L1307.5 92.8 L1301.3 92.8 L1301.3 89.8 L1285.8 89.8Z" fill="#d78426" fill-opacity="0.3" stroke="none"/>
<path d="M1285.8 75.6 H1285.8 V78.5 H1304.4 V82.7 H1308.6 V86.8 H1315 V91 H1317 V103.5 H1324.2 V107.6 H1335.6 V113.9 H1340.8 V119.1 H1345 V124.3 H1348.1 V129.4 H1352.3 V136.7 H1363 V144 H1366 V150.8 H1368 V154.9 H1381.2 V162.2 H1385.4 V169.5 H1388.7 V176.8 H1391.6 V190.3 H1394.9 V209 H1402.2 V213.2 H1416 V219 H1422 V223.2 H1431.2 V229 H1440.4 V234.2 H1449.3 V243.4 H1452.8 V255.1 H1465.1 V261.3 H1470.3 V267.6 H1475.5 V272.8 H1484.9 V279.2 H1497.4 V284.6 H1504 V290 H1506.5 V298.5 H1511.2 V308.5 H1514.1 V316.8 H1531.6 V323 H1539.3 V330.3 H1547 V337.6 H1556.9 V343.8 H1561.1 V351.2 H1600.5 V361 H1613 V372.6 H1659.7 V417.4" fill="none" stroke="#4870a8" stroke-width="2.5" stroke-linejoin="round" stroke-linecap="butt"/>
<path d="M1285.8 75.8 H1301.3 V78.5 H1307.5 V81.6 H1313.8 V84.8 H1321 V87.9 H1330.4 V91 H1348 V94.5 H1352 V98.5 H1360.5 V103 H1363 V107.5 H1374 V110.6 H1381.2 V113.7 H1384.3 V118.9 H1393.7 V122 H1403 V125.1 H1408.9 V132.4 H1414.1 V140.5 H1426.9 V143.5 H1434 V147.3 H1440.6 V150.4 H1445 V156 H1450.5 V163.6 H1465.5 V170.5 H1471.5 V175.8 H1504.6 V181.1 H1510.4 V189.8 H1514.8 V195.7 H1519.2 V202.9 H1555.5 V208.8 H1565.7 V213.1 H1574.4 V219.3 H1745.6 V417.4" fill="none" stroke="#cb8345" stroke-width="2.5" stroke-linejoin="round" stroke-linecap="butt"/>
<rect x="1263.3" y="58.4" width="505.9" height="376" fill="none" stroke="#262626" stroke-width="1.3"/>
<text x="1286.1" y="455.6" font-size="14.1" text-anchor="middle" fill="#000" style="color:#000">0</text>
<text x="1383.1" y="455.6" font-size="14.1" text-anchor="middle" fill="#000" style="color:#000">20</text>
<text x="1480.1" y="455.6" font-size="14.1" text-anchor="middle" fill="#000" style="color:#000">40</text>
<text x="1577.1" y="455.6" font-size="14.1" text-anchor="middle" fill="#000" style="color:#000">60</text>
<text x="1674.1" y="455.6" font-size="14.1" text-anchor="middle" fill="#000" style="color:#000">80</text>
<text x="1253.7" y="422.7" font-size="14.1" text-anchor="end" fill="#000" style="color:#000">0.0</text>
<text x="1253.7" y="354.1" font-size="14.1" text-anchor="end" fill="#000" style="color:#000">0.2</text>
<text x="1253.7" y="285.6" font-size="14.1" text-anchor="end" fill="#000" style="color:#000">0.4</text>
<text x="1253.7" y="217" font-size="14.1" text-anchor="end" fill="#000" style="color:#000">0.6</text>
<text x="1253.7" y="148.5" font-size="14.1" text-anchor="end" fill="#000" style="color:#000">0.8</text>
<text x="1253.7" y="79.9" font-size="14.1" text-anchor="end" fill="#000" style="color:#000">1.0</text>
<path d="M1286.1 434.4 v5 M1383.1 434.4 v5 M1480.1 434.4 v5 M1577.1 434.4 v5 M1674.1 434.4 v5 M1263.3 417.4 h-5 M1263.3 348.8 h-5 M1263.3 280.3 h-5 M1263.3 211.7 h-5 M1263.3 143.2 h-5 M1263.3 74.6 h-5 " stroke="#262626" stroke-width="1.25" fill="none"/>
<text x="1516.2" y="474.2" font-size="14.1" text-anchor="middle" fill="#000" style="color:#000">Time (months)</text>
<text transform="translate(1222.9 246.6) rotate(-90)" font-size="14.1" text-anchor="middle" fill="#000" style="color:#000">Survival Probability</text>
<rect x="1521.9" y="65" width="239.4" height="46" rx="3" ry="3" fill="#fff" fill-opacity="0.8" stroke="#d2d2d2" stroke-width="1.1"/>
<path d="M1527.4 76.9 H1557.5" stroke="#4870a8" stroke-width="2.1"/>
<path d="M1527.4 97.6 H1557.5" stroke="#cb8345" stroke-width="2.1"/>
<text x="1568.5" y="82" font-size="14.1" text-anchor="start" fill="#222" style="color:#222">With mutation residues</text>
<text x="1568.5" y="102.7" font-size="14.1" text-anchor="start" fill="#222" style="color:#222">Without mutation residues</text>
<text x="1516.6" y="133.2" font-size="14.1" text-anchor="start" fill="#000" style="color:#000">p-value = 1.47e-08</text>
<text class="pl" x="11" y="29.2" font-family="'Liberation Sans', Arial, sans-serif" font-weight="700" font-size="37.4" fill="#000">A</text>
<text class="pl" x="598.3" y="29.2" font-family="'Liberation Sans', Arial, sans-serif" font-weight="700" font-size="37.4" fill="#000">B</text>
<text class="pl" x="1203" y="29.2" font-family="'Liberation Sans', Arial, sans-serif" font-weight="700" font-size="37.4" fill="#000">C</text>
</svg>
</body>
</html>
